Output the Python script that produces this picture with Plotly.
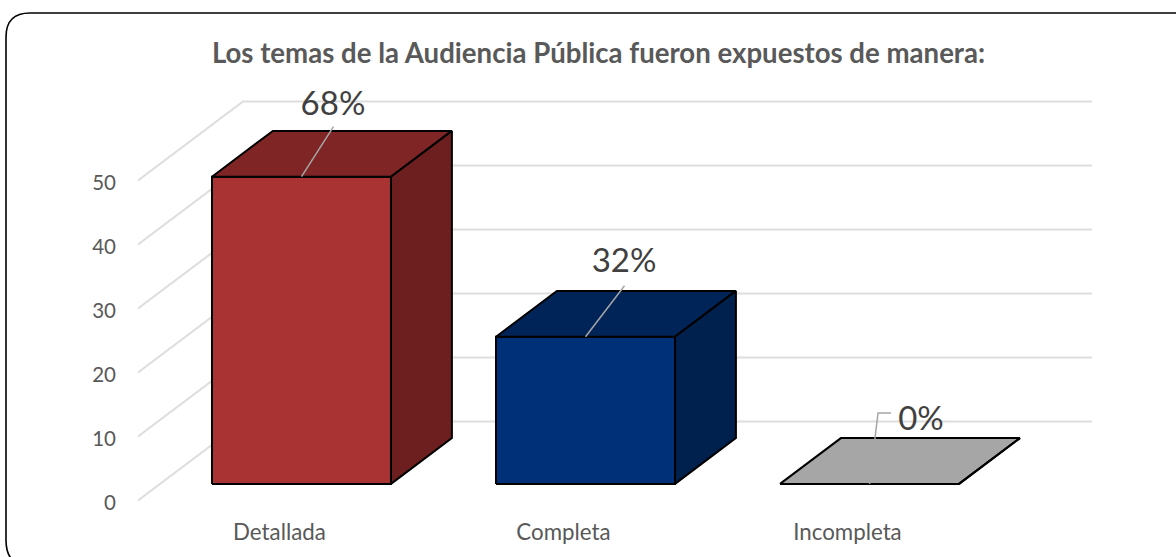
"""Oblique 3D column chart drawn on 2D Plotly axes."""

import plotly.graph_objects as go

TITLE = "Los temas de la Audiencia Pública fueron expuestos de manera:"
categories = ["Detallada", "Completa", "Incompleta"]
values = [48, 23, 0]
value_labels = ["68%", "32%", "0%"]
y_ticks = [0, 10, 20, 30, 40, 50]

front_colors = ["#A93232", "#003078", "#A6A6A6"]
top_colors = ["#7F2525", "#002458", "#A6A6A6"]
side_colors = ["#6C1F1E", "#00204D", "#A6A6A6"]

WIDTH = 1176
HEIGHT = 557
PX_PER_CATEGORY = 284
PX_PER_UNIT = 6.4

# oblique projection, one unit of depth moves this far on the axes
DEPTH_X = 105 / PX_PER_CATEGORY
DEPTH_V = 79 / PX_PER_UNIT
BAR_WIDTH = 179 / PX_PER_CATEGORY
BAR_FRONT = 0.21
BAR_BACK = 0.79
X_MIN = -0.498
X_MAX = 2.861
TICK_LABEL_DROP = 0.4

# label furniture, offsets in pixels from the middle of each bar's top front edge
leader_offsets = [
    [(0, 0), (32, 50)],
    [(0, 0), (39, 51)],
    [(0, 0), (5.5, 46), (8.5, 71), (21.5, 71)],
]
label_offsets = [(31.5, 70), (38.5, 73), (51.5, 62)]

PLOT_LEFT, PLOT_RIGHT, PLOT_TOP, PLOT_BOTTOM = 138, 1092, 90, 515
ZERO_PX = 500.5


def project(x, v, depth):
    return x + depth * DEPTH_X, v + depth * DEPTH_V


def add_polygon(fig, corners, fill, line="#000000"):
    xs, ys = zip(*[project(*corner) for corner in corners])
    fig.add_trace(
        go.Scatter(
            x=list(xs) + [xs[0]],
            y=list(ys) + [ys[0]],
            mode="lines",
            fill="toself",
            fillcolor=fill,
            line=dict(color=line, width=2),
            hoverinfo="skip",
        )
    )


def add_bar(fig, i, value):
    left = i - BAR_WIDTH / 2
    right = i + BAR_WIDTH / 2
    add_polygon(
        fig,
        [(left, 0, BAR_FRONT), (right, 0, BAR_FRONT), (right, value, BAR_FRONT), (left, value, BAR_FRONT)],
        front_colors[i],
    )
    add_polygon(
        fig,
        [(left, value, BAR_FRONT), (right, value, BAR_FRONT), (right, value, BAR_BACK), (left, value, BAR_BACK)],
        top_colors[i],
    )
    add_polygon(
        fig,
        [(right, 0, BAR_FRONT), (right, 0, BAR_BACK), (right, value, BAR_BACK), (right, value, BAR_FRONT)],
        side_colors[i],
    )


def add_walls(fig):
    for tick in y_ticks:
        xs, ys = zip(project(X_MIN, tick, 0), project(X_MIN, tick, 1), project(X_MAX - DEPTH_X, tick, 1))
        fig.add_trace(
            go.Scatter(
                x=xs,
                y=ys,
                mode="lines",
                line=dict(color="#DDDDDD", width=2),
                hoverinfo="skip",
            )
        )


def add_labels(fig, i, value):
    start_x, start_v = project(i, value, BAR_FRONT)
    fig.add_trace(
        go.Scatter(
            x=[start_x + dx / PX_PER_CATEGORY for dx, _ in leader_offsets[i]],
            y=[start_v + dy / PX_PER_UNIT for _, dy in leader_offsets[i]],
            mode="lines",
            line=dict(color="#A6A6A6", width=1.5),
            hoverinfo="skip",
        )
    )
    dx, dy = label_offsets[i]
    fig.add_trace(
        go.Scatter(
            x=[start_x + dx / PX_PER_CATEGORY],
            y=[start_v + dy / PX_PER_UNIT],
            mode="text",
            text=[value_labels[i]],
            textposition="middle center",
            textfont=dict(family="Lato", size=33, color="#404040"),
            cliponaxis=False,
            hoverinfo="skip",
        )
    )


def px_x(px):
    return (px - PLOT_LEFT) / (PLOT_RIGHT - PLOT_LEFT)


def px_y(px):
    return (PLOT_BOTTOM - px) / (PLOT_BOTTOM - PLOT_TOP)


fig = go.Figure()
add_walls(fig)
for i, value in enumerate(values):
    add_bar(fig, i, value)
for i, value in enumerate(values):
    add_labels(fig, i, value)

# rounded card behind the chart, it runs off the right and bottom of the page
frame = go.layout.Shape(
    type="path",
    path=(
        f"M {px_x(6)},{px_y(540)} L {px_x(6)},{px_y(37)} "
        f"Q {px_x(6)},{px_y(13)} {px_x(30)},{px_y(13)} L {px_x(1180)},{px_y(13)} "
        f"M {px_x(6)},{px_y(540)} Q {px_x(6)},{px_y(566)} {px_x(30)},{px_y(566)}"
    ),
    xref="paper",
    yref="paper",
    line=dict(color="#000000", width=1.6),
)

fig.update_layout(
    width=WIDTH,
    height=HEIGHT,
    showlegend=False,
    paper_bgcolor="#FFFFFF",
    plot_bgcolor="#FFFFFF",
    margin=dict(l=PLOT_LEFT, r=WIDTH - PLOT_RIGHT, t=PLOT_TOP, b=HEIGHT - PLOT_BOTTOM, pad=0),
    title=dict(
        text=f"<b>{TITLE}</b>",
        x=598.5 / WIDTH,
        xanchor="center",
        y=1 - 53 / HEIGHT,
        yanchor="middle",
        font=dict(family="Lato", size=27.6, color="#595959"),
    ),
    shapes=[frame],
    xaxis=dict(
        range=[X_MIN, X_MAX],
        tickvals=list(range(len(categories))),
        ticktext=categories,
        showgrid=False,
        zeroline=False,
        showline=False,
        ticks="",
        ticklabelstandoff=2,
        tickfont=dict(family="Lato", size=22.3, color="#595959"),
    ),
    yaxis=dict(
        range=[(ZERO_PX - PLOT_BOTTOM) / PX_PER_UNIT, (ZERO_PX - PLOT_TOP) / PX_PER_UNIT],
        tickvals=[tick - TICK_LABEL_DROP for tick in y_ticks],
        ticktext=[str(tick) for tick in y_ticks],
        showgrid=False,
        zeroline=False,
        showline=False,
        ticks="",
        ticklabelstandoff=21,
        tickfont=dict(family="Lato", size=20.5, color="#595959"),
    ),
)

fig.write_html(
    "out.html",
    config={"displayModeBar": False},
    post_script="document.body.style.margin = '0';",
)
